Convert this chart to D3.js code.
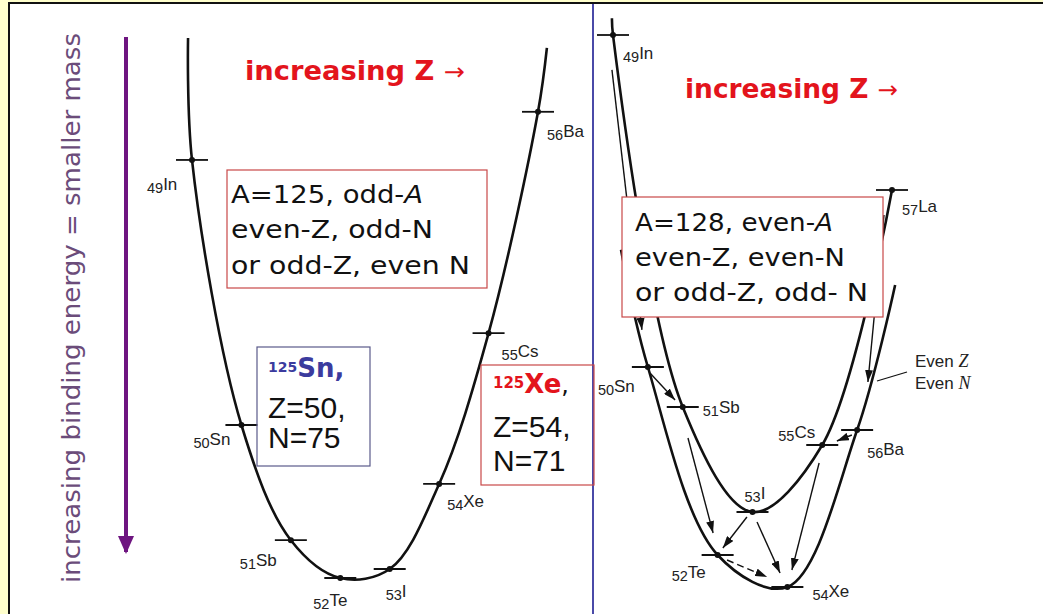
<!DOCTYPE html>
<html><head><meta charset="utf-8">
<script src="https://cdn.jsdelivr.net/npm/d3@7"></script>
<style>body{margin:0;background:#fff;} svg{display:block}</style>
</head><body><svg id="c" width="1043" height="614"></svg>
<script>
// ================= DATA =================
// Left panel: A = 125 (odd-A) isobars, one parabola
const leftZ    = [49, 50, 51, 52, 53, 54, 55, 56];
const leftSym  = ["In", "Sn", "Sb", "Te", "I", "Xe", "Cs", "Ba"];
const leftMass = [9.29, 3.4, 0.84, 0, 0.2, 2.09, 5.44, 10.36];   // relative mass (arb. MeV)
const leftCurveStart = [48.92, 12.0];
const leftCurveEnd   = [56.18, 11.78];

// Right panel: A = 128 (even-A), odd-odd and even-even parabolas
const oddOddZ    = [49, 51, 53, 55, 57];
const oddOddSym  = ["In", "Sb", "I", "Cs", "La"];
const oddOddMass = [13.8, 4.5, 1.875, 3.55, 9.925];
const oddOddStart = [48.97, 14.22];

const evenEvenZ    = [50, 52, 54, 56];
const evenEvenSym  = ["Sn", "Te", "Xe", "Ba"];
const evenEvenMass = [5.5, 0.8, 0, 3.925];
const evenEvenStart = [49.23, 8.43];
const evenEvenEnd   = [57.09, 7.55];

// decay arrows: [fromZ, fromMass, toZ, toMass, dashed]
const decayArrows = [
  [48.97, 12.93, 49.83, 6.43, 0],   // In -> Sn
  [56.77, 9.30, 56.31, 5.125, 0],   // La -> Ba
  [50.06, 5.35, 50.78, 4.675, 0],   // Sn -> Sb
  [51.15, 3.725, 51.87, 1.35, 0],   // Sb -> Te
  [52.84, 1.75, 52.15, 0.975, 0],   // I -> Te
  [53.13, 1.625, 53.79, 0.35, 0],   // I -> Xe
  [54.91, 3.10, 54.13, 0.425, 0],   // Cs -> Xe
  [55.85, 3.80, 55.42, 3.65, 0],    // Ba -> Cs
  [52.27, 0.675, 53.42, 0.25, 1]    // Te -> Xe (double beta)
];
const evenPointer = [[57.43, 5.375], [56.57, 5.15]];

// box text: [plain part, italic part]
const leftBoxLines  = [["A=125, odd-","A"], ["even-Z, odd-N",""], ["or odd-Z, even N",""]];
const rightBoxLines = [["A=128, even-","A"], ["even-Z, even-N",""], ["or odd-Z, odd- N",""]];
const axisTitle = "increasing binding energy = smaller mass";
const zTitle = "increasing Z ";
const zArrow = "\u2192";

// ================= LAYOUT =================
const leftLabelOff  = [[-45,30],[-48,20],[-51,26],[-27,28],[-4,28],[8,23],[13,24],[9,25]];
const oddLabelOff   = [[10,24],[20,6],[-8,-13],[-44,-7],[10,22]];
const evenLabelOff  = [[-50,25],[-46,23],[25,10],[10,25]];

const svg = d3.select("#c");
const SANS = "'Liberation Sans', Arial, sans-serif";
const ROUND = "'DejaVu Sans', sans-serif";

// background / frame
svg.append("rect").attr("width",1043).attr("height",614).attr("fill","#ffffcc");
svg.append("rect").attr("x",10).attr("y",4).attr("width",1033).attr("height",610).attr("fill","#fff");
svg.append("line").attr("x1",9).attr("x2",9).attr("y1",2).attr("y2",614).attr("stroke","#111").attr("stroke-width",2);
svg.append("line").attr("x1",8).attr("x2",1043).attr("y1",3).attr("y2",3).attr("stroke","#111").attr("stroke-width",2);
svg.append("line").attr("x1",593).attr("x2",593).attr("y1",4).attr("y2",614).attr("stroke","#4a4aa8").attr("stroke-width",2);

const defs = svg.append("defs");
defs.append("marker").attr("id","ah").attr("viewBox","0 0 12 8").attr("refX",12).attr("refY",4)
  .attr("markerWidth",12).attr("markerHeight",8).attr("markerUnits","userSpaceOnUse").attr("orient","auto")
  .append("path").attr("d","M0,0L12,4L0,8Z").attr("fill","#111");
defs.append("marker").attr("id","ahp").attr("viewBox","0 0 18 16").attr("refX",16).attr("refY",8)
  .attr("markerWidth",18).attr("markerHeight",16).attr("markerUnits","userSpaceOnUse").attr("orient","auto")
  .append("path").attr("d","M0,0L18,8L0,16Z").attr("fill","#6e1580");

// ---- vertical axis arrow and title ----
svg.append("line").attr("x1",126).attr("x2",126).attr("y1",37).attr("y2",552)
  .attr("stroke","#6e1580").attr("stroke-width",4).attr("marker-end","url(#ahp)");
svg.append("text").attr("transform","translate(80,583) rotate(-90)")
  .attr("font-family",ROUND).attr("font-size",25).attr("fill","#6b4c7a")
  .attr("textLength",550).attr("lengthAdjust","spacingAndGlyphs").text(axisTitle);

// ---- red headers ----
function header(x,y,len){
  const t = svg.append("text").attr("x",x).attr("y",y).attr("font-family",ROUND)
    .attr("font-size",26).attr("fill","#e3141c").attr("textLength",len).attr("lengthAdjust","spacingAndGlyphs");
  t.append("tspan").attr("font-weight","bold").text(zTitle);
  t.append("tspan").attr("font-weight","normal").attr("font-size",24).text(zArrow);
}
header(245,80,220);
header(685,98,213);

function nucLabel(g,x,y,num,sym){
  const t = g.append("text").attr("x",x).attr("y",y).attr("font-family",SANS).attr("fill","#222");
  t.append("tspan").attr("font-size",14.5).attr("dy",3).text(num);
  t.append("tspan").attr("font-size",17).attr("dy",-3).text(sym);
}
function tick(g,x,y,hw){
  g.append("line").attr("x1",x-hw).attr("x2",x+hw).attr("y1",y).attr("y2",y).attr("stroke","#111").attr("stroke-width",1.8);
  g.append("circle").attr("cx",x).attr("cy",y).attr("r",3).attr("fill","#111");
}
function boxText(g,x,y,len,parts){
  const t = g.append("text").attr("x",x).attr("y",y).attr("font-family",ROUND).attr("font-size",24).attr("fill","#111")
    .attr("textLength",len).attr("lengthAdjust","spacingAndGlyphs");
  t.append("tspan").text(parts[0]);
  if (parts[1]) t.append("tspan").attr("font-style","italic").text(parts[1]);
}

// ================= LEFT PANEL =================
const xL = d3.scaleLinear().domain([49,56]).range([192,538]);
const yL = d3.scaleLinear().domain([0,12]).range([578,38]);
const gL = svg.append("g");
const leftPts = [leftCurveStart].concat(leftZ.map((z,i)=>[z,leftMass[i]])).concat([leftCurveEnd]);
const lineL = d3.line().x(d=>xL(d[0])).y(d=>yL(d[1])).curve(d3.curveCatmullRom);
gL.append("path").attr("d",lineL(leftPts)).attr("fill","none").attr("stroke","#111").attr("stroke-width",2.6);
leftZ.forEach((z,i)=>{
  const x=xL(z), y=yL(leftMass[i]);
  tick(gL,x,y,16);
  nucLabel(gL,x+leftLabelOff[i][0],y+leftLabelOff[i][1],z,leftSym[i]);
});

// left info box
gL.append("rect").attr("x",227).attr("y",170).attr("width",260).attr("height",118).attr("fill","#fff").attr("stroke","#c84848").attr("stroke-width",1.2);
const lbW=[192,202,239], lbY=[203,238,274];
leftBoxLines.forEach((s,i)=>boxText(gL,231,lbY[i],lbW[i],s));

// Sn box
gL.append("rect").attr("x",257).attr("y",347).attr("width",113).attr("height",119).attr("fill","none").attr("stroke","#5a5a8a").attr("stroke-width",1.2);
{
  const t = gL.append("text").attr("x",268).attr("y",377).attr("font-family",ROUND).attr("font-weight","bold").attr("fill","#3b3b9e");
  t.append("tspan").attr("font-size",14).attr("dy",-5).text("125");
  t.append("tspan").attr("font-size",26).attr("dy",5).text("Sn,");
  gL.append("text").attr("x",268).attr("y",418).attr("font-family",SANS).attr("font-size",30).attr("fill","#111").text("Z=50,");
  gL.append("text").attr("x",268).attr("y",448).attr("font-family",SANS).attr("font-size",30).attr("fill","#111").text("N=75");
}
// Xe box
gL.append("rect").attr("x",481).attr("y",365).attr("width",113).attr("height",120).attr("fill","none").attr("stroke","#c84848").attr("stroke-width",1.2);
{
  const t = gL.append("text").attr("x",493).attr("y",393).attr("font-family",ROUND).attr("font-weight","bold").attr("fill","#e3141c");
  t.append("tspan").attr("font-size",15).attr("dy",-5).text("125");
  t.append("tspan").attr("font-size",26).attr("dy",5).text("Xe");
  t.append("tspan").attr("font-size",24).attr("font-weight","normal").attr("fill","#111").text(",");
  gL.append("text").attr("x",493).attr("y",437).attr("font-family",SANS).attr("font-size",30).attr("fill","#111").text("Z=54,");
  gL.append("text").attr("x",493).attr("y",471).attr("font-family",SANS).attr("font-size",30).attr("fill","#111").text("N=71");
}

// ================= RIGHT PANEL =================
const xR = d3.scaleLinear().domain([49,57]).range([613,892]);
const yR = d3.scaleLinear().domain([0,14]).range([587,27]);
const gR = svg.append("g");
const lineR = d3.line().x(d=>xR(d[0])).y(d=>yR(d[1])).curve(d3.curveCatmullRom);
const oddPts = [oddOddStart].concat(oddOddZ.map((z,i)=>[z,oddOddMass[i]]));
const evenPts = [evenEvenStart].concat(evenEvenZ.map((z,i)=>[z,evenEvenMass[i]])).concat([evenEvenEnd]);
gR.append("path").attr("d",lineR(oddPts)).attr("fill","none").attr("stroke","#111").attr("stroke-width",2.6);
gR.append("path").attr("d",lineR(evenPts)).attr("fill","none").attr("stroke","#111").attr("stroke-width",2.6);

decayArrows.forEach(a=>{
  gR.append("line").attr("x1",xR(a[0])).attr("y1",yR(a[1])).attr("x2",xR(a[2])).attr("y2",yR(a[3]))
    .attr("stroke","#111").attr("stroke-width",1.4).attr("stroke-dasharray",a[4]?"7,4":null)
    .attr("marker-end","url(#ah)");
});
gR.append("line").attr("x1",xR(evenPointer[0][0])).attr("y1",yR(evenPointer[0][1]))
  .attr("x2",xR(evenPointer[1][0])).attr("y2",yR(evenPointer[1][1])).attr("stroke","#111").attr("stroke-width",1.3);

oddOddZ.forEach((z,i)=>{
  const x=xR(z), y=yR(oddOddMass[i]);
  tick(gR,x,y,16);
  nucLabel(gR,x+oddLabelOff[i][0],y+oddLabelOff[i][1],z,oddOddSym[i]);
});
evenEvenZ.forEach((z,i)=>{
  const x=xR(z), y=yR(evenEvenMass[i]);
  tick(gR,x,y,16);
  nucLabel(gR,x+evenLabelOff[i][0],y+evenLabelOff[i][1],z,evenEvenSym[i]);
});

// Even Z / Even N
[["Even ","Z",367],["Even ","N",389]].forEach(d=>{
  const t = gR.append("text").attr("x",915).attr("y",d[2]).attr("font-family",SANS).attr("font-size",17).attr("fill","#222");
  t.append("tspan").text(d[0]);
  t.append("tspan").attr("font-family","'Liberation Serif', serif").attr("font-style","italic").attr("font-size",18).text(d[1]);
});

// right info box (covers curves)
gR.append("rect").attr("x",622).attr("y",197).attr("width",261).attr("height",120).attr("fill","#fff").attr("stroke","#c84848").attr("stroke-width",1.2);
const rbW=[198,210,233], rbY=[231,266,301];
rightBoxLines.forEach((s,i)=>boxText(gR,635,rbY[i],rbW[i],s));
</script>
</body></html>
